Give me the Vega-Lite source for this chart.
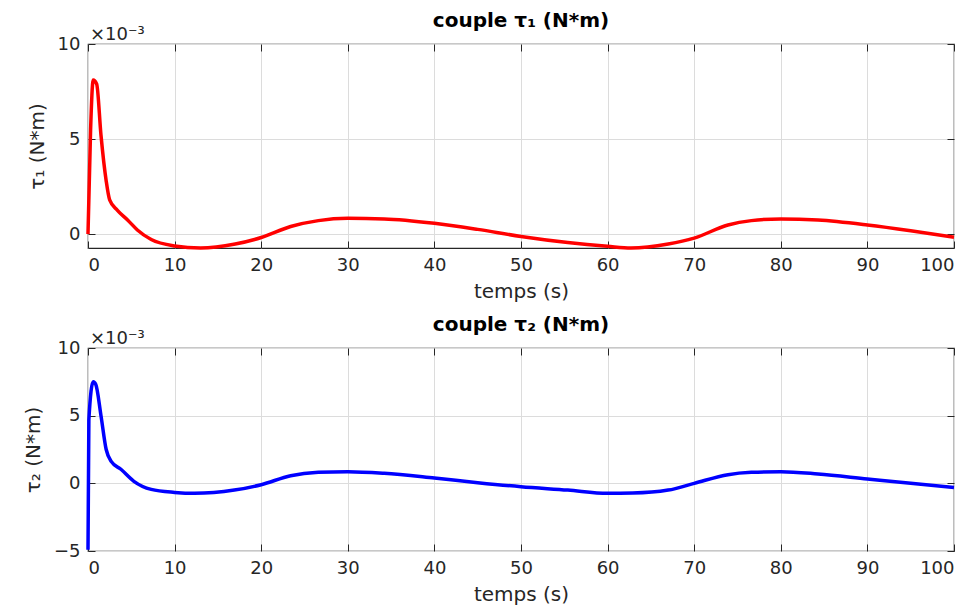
{
  "$schema": "https://vega.github.io/schema/vega-lite/v6.json",
  "background": "white",
  "padding": {"left": 22, "top": 10, "right": 5, "bottom": 2},
  "datasets": {
    "tau1": [
      {"t": 0, "v": 0}, {"t": 0.3, "v": 5.5}, {"t": 0.6, "v": 8.1}, {"t": 1.0, "v": 7.9},
      {"t": 1.5, "v": 5.2}, {"t": 2.1, "v": 2.8}, {"t": 2.5, "v": 1.8}, {"t": 3.4, "v": 1.25},
      {"t": 4.6, "v": 0.73}, {"t": 5.7, "v": 0.22}, {"t": 7.3, "v": -0.28}, {"t": 10, "v": -0.62},
      {"t": 13, "v": -0.73}, {"t": 17, "v": -0.52}, {"t": 20, "v": -0.18}, {"t": 23.4, "v": 0.4},
      {"t": 26.6, "v": 0.71}, {"t": 30, "v": 0.83}, {"t": 34.2, "v": 0.8}, {"t": 40, "v": 0.57},
      {"t": 45, "v": 0.25}, {"t": 50, "v": -0.12}, {"t": 55.4, "v": -0.44}, {"t": 60, "v": -0.64},
      {"t": 62.7, "v": -0.73}, {"t": 67, "v": -0.52}, {"t": 70, "v": -0.21}, {"t": 73.9, "v": 0.48},
      {"t": 76.6, "v": 0.71}, {"t": 80, "v": 0.8}, {"t": 84.3, "v": 0.74}, {"t": 90, "v": 0.48},
      {"t": 95, "v": 0.18}, {"t": 100, "v": -0.16}
    ],
    "tau2": [
      {"t": 0, "v": -4.9}, {"t": 0.1, "v": 4.7}, {"t": 0.6, "v": 7.5}, {"t": 0.9, "v": 7.3},
      {"t": 1.5, "v": 5.0}, {"t": 2.1, "v": 2.5}, {"t": 2.7, "v": 1.6}, {"t": 3.8, "v": 1.04},
      {"t": 5.3, "v": 0.15}, {"t": 7.3, "v": -0.45}, {"t": 10, "v": -0.67}, {"t": 12.3, "v": -0.74},
      {"t": 16.9, "v": -0.5}, {"t": 20, "v": -0.1}, {"t": 23.4, "v": 0.56}, {"t": 26.6, "v": 0.81},
      {"t": 30, "v": 0.86}, {"t": 34.2, "v": 0.74}, {"t": 40, "v": 0.39}, {"t": 45, "v": 0.05},
      {"t": 50, "v": -0.25}, {"t": 55.4, "v": -0.5}, {"t": 60, "v": -0.74}, {"t": 62.9, "v": -0.72},
      {"t": 67, "v": -0.5}, {"t": 70, "v": 0.0}, {"t": 73.9, "v": 0.64}, {"t": 76.6, "v": 0.81},
      {"t": 80, "v": 0.86}, {"t": 84.3, "v": 0.69}, {"t": 90, "v": 0.32}, {"t": 95, "v": 0.0},
      {"t": 100, "v": -0.3}
    ],
    "exp1": [{"t": 0, "v": 10, "label": "×10⁻³"}],
    "exp2": [{"t": 0, "v": 10, "label": "×10⁻³"}]
  },
  "config": {
    "font": "DejaVu Sans",
    "view": {"stroke": "#262626", "strokeWidth": 1.2},
    "axis": {
      "labelFontSize": 18, "titleFontSize": 20, "titleFontWeight": "normal",
      "labelColor": "#262626", "titleColor": "#262626", "domainColor": "#262626",
      "tickColor": "#262626", "gridColor": "#dcdcdc", "gridOpacity": 1,
      "tickSize": -7, "labelPadding": 15, "domain": false
    },
    "title": {"fontSize": 20, "fontWeight": "bold", "color": "#000000", "offset": -5},
    "concat": {"spacing": 12}
  },
  "vconcat": [
    {
      "width": 866, "height": 204,
      "title": "couple τ₁ (N*m)",
      "resolve": {"axis": {"x": "independent", "y": "independent"}},
      "layer": [
        {
          "data": {"name": "tau1"},
          "mark": {"type": "line", "color": "#ff0000", "strokeWidth": 3.5, "interpolate": "monotone"},
          "encoding": {
            "x": {"field": "t", "type": "quantitative", "scale": {"domain": [0, 100], "nice": false},
                  "axis": {"title": "temps (s)", "values": [0,10,20,30,40,50,60,70,80,90,100], "titlePadding": 7}},
            "y": {"field": "v", "type": "quantitative", "scale": {"domain": [-0.73, 10], "nice": false, "zero": false},
                  "axis": {"title": "τ₁ (N*m)", "values": [0, 5, 10], "labelPadding": 15, "titlePadding": 10}}
          }
        },
        {
          "data": {"name": "exp1"},
          "mark": {"type": "text", "align": "left", "baseline": "bottom", "dx": 2, "dy": 0, "fontSize": 18, "color": "#262626"},
          "encoding": {
            "x": {"field": "t", "type": "quantitative", "axis": {"orient": "top", "labels": false, "title": null, "grid": false, "values": [0,10,20,30,40,50,60,70,80,90,100]}},
            "y": {"field": "v", "type": "quantitative", "axis": {"orient": "right", "labels": false, "title": null, "grid": false, "values": [0, 5, 10]}},
            "text": {"field": "label"}
          }
        }
      ]
    },
    {
      "width": 866, "height": 203,
      "title": "couple τ₂ (N*m)",
      "resolve": {"axis": {"x": "independent", "y": "independent"}},
      "layer": [
        {
          "data": {"name": "tau2"},
          "mark": {"type": "line", "color": "#0000ff", "strokeWidth": 3.5, "interpolate": "monotone"},
          "encoding": {
            "x": {"field": "t", "type": "quantitative", "scale": {"domain": [0, 100], "nice": false},
                  "axis": {"title": "temps (s)", "values": [0,10,20,30,40,50,60,70,80,90,100], "titlePadding": 7}},
            "y": {"field": "v", "type": "quantitative", "scale": {"domain": [-5, 10], "nice": false, "zero": false},
                  "axis": {"title": "τ₂ (N*m)", "values": [-5, 0, 5, 10], "labelPadding": 15, "titlePadding": 10}}
          }
        },
        {
          "data": {"name": "exp2"},
          "mark": {"type": "text", "align": "left", "baseline": "bottom", "dx": 2, "dy": 0, "fontSize": 18, "color": "#262626"},
          "encoding": {
            "x": {"field": "t", "type": "quantitative", "axis": {"orient": "top", "labels": false, "title": null, "grid": false, "values": [0,10,20,30,40,50,60,70,80,90,100]}},
            "y": {"field": "v", "type": "quantitative", "axis": {"orient": "right", "labels": false, "title": null, "grid": false, "values": [-5, 0, 5, 10]}},
            "text": {"field": "label"}
          }
        }
      ]
    }
  ]
}
